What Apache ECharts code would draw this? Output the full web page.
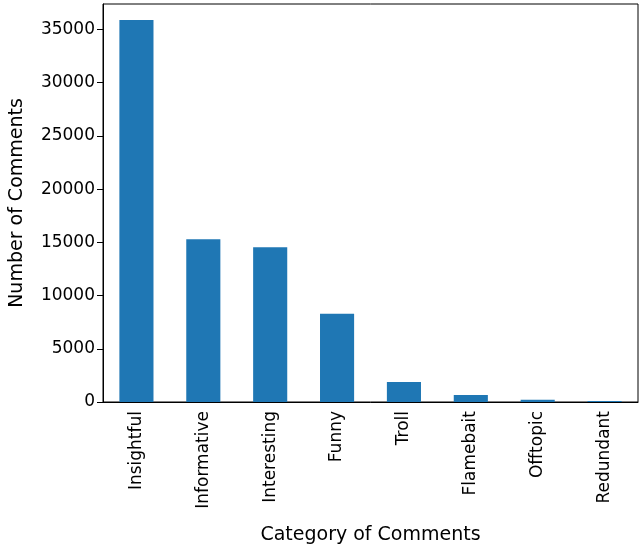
<!DOCTYPE html>
<html><head><meta charset="utf-8">
<script src="https://cdn.jsdelivr.net/npm/echarts@6/dist/echarts.min.js"></script>
<style>html,body{margin:0;padding:0;background:#fff}#c{width:640px;height:550px}</style>
</head><body><div id="c"></div>
<script>
const categories = ["Insightful","Informative","Interesting","Funny","Troll","Flamebait","Offtopic","Redundant"];
const counts = [35900, 15300, 14550, 8300, 1870, 650, 200, 100];
const chart = echarts.init(document.getElementById('c'));
const font = "DejaVu Sans";
chart.setOption({
  animation:false,
  grid:{left:92,right:2,top:4,bottom:145,show:true,borderColor:'#000',borderWidth:1,backgroundColor:'transparent'},
  xAxis:{type:'category',data:categories,
    name:'Category of Comments',nameLocation:'middle',nameGap:124,
    nameTextStyle:{fontFamily:font,fontSize:19,color:'#000'},
    axisLine:{lineStyle:{color:'#000'}},axisTick:{alignWithLabel:true,length:6,lineStyle:{color:'#000'}},
    axisLabel:{rotate:90,fontFamily:font,fontSize:17,color:'#000',margin:9}},
  yAxis:{type:'value',min:0,max:37400,interval:5000,
    name:'Number of Comments',nameLocation:'middle',nameGap:76,
    nameTextStyle:{fontFamily:font,fontSize:19,color:'#000'},
    axisLine:{show:true,lineStyle:{color:'#000'}},axisTick:{show:true,length:6,lineStyle:{color:'#000'}},
    splitLine:{show:false},
    axisLabel:{fontFamily:font,fontSize:17,color:'#000',showMaxLabel:false,formatter:v=>String(v)}},
  series:[{type:'bar',data:counts,barWidth:'51%',itemStyle:{color:'#1f77b4'}}]
});
</script></body></html>
